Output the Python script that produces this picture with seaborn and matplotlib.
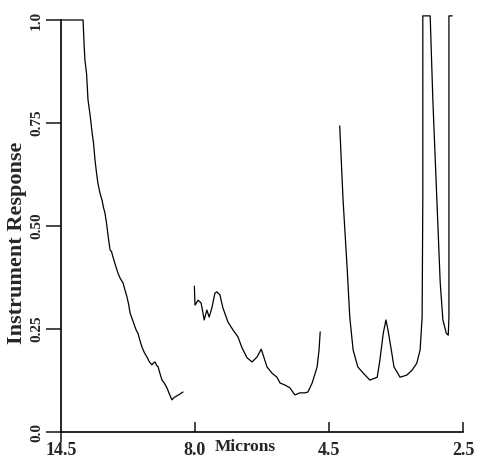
import numpy as np
import pandas as pd
import matplotlib
matplotlib.use("Agg")
import matplotlib.pyplot as plt
import seaborn as sns

# tick labels of the broken wavelength axis (three detector bands, equal width each)
band_edges = [14.5, 8.0, 4.5, 2.5]

# band 1 : 14.5 - 8.0 microns
micron_1 = [14.5, 13.43, 13.38, 13.34, 13.26, 13.19, 13.09, 12.99, 12.92, 12.85, 12.78, 12.71,
            12.61, 12.51, 12.44, 12.37, 12.30, 12.27, 12.20, 12.12, 12.05, 11.98, 11.86, 11.74,
            11.62, 11.49, 11.40, 11.30, 11.22, 11.15, 11.03, 10.91, 10.84, 10.77, 10.67, 10.57,
            10.45, 10.33, 10.21, 10.09, 10.01, 9.94, 9.86, 9.79, 9.70, 9.60, 9.48, 9.36,
            9.24, 9.12, 9.05, 8.97, 8.80, 8.58]
resp_1 = [1.0, 1.0, 0.94, 0.903, 0.87, 0.806, 0.77, 0.726, 0.70, 0.660, 0.63, 0.604,
          0.58, 0.563, 0.545, 0.532, 0.51, 0.498, 0.47, 0.442, 0.438, 0.425, 0.405, 0.386,
          0.372, 0.362, 0.345, 0.328, 0.31, 0.289, 0.272, 0.255, 0.246, 0.240, 0.222, 0.206,
          0.192, 0.182, 0.170, 0.163, 0.168, 0.170, 0.162, 0.158, 0.142, 0.126, 0.118, 0.107,
          0.092, 0.078, 0.082, 0.085, 0.090, 0.097]

# band 2 : 8.0 - 4.5 microns
micron_2 = [8.03, 8.0, 7.92, 7.84, 7.76, 7.69, 7.63, 7.56, 7.48, 7.43, 7.35, 7.27,
            7.14, 7.01, 6.88, 6.77, 6.64, 6.51, 6.38, 6.27, 6.22, 6.12, 5.99, 5.86,
            5.78, 5.65, 5.52, 5.39, 5.26, 5.13, 5.05, 4.94, 4.86, 4.81, 4.76, 4.73]
resp_2 = [0.354, 0.308, 0.320, 0.313, 0.272, 0.296, 0.279, 0.301, 0.337, 0.340, 0.333, 0.301,
          0.267, 0.248, 0.231, 0.204, 0.180, 0.170, 0.182, 0.201, 0.187, 0.158, 0.143, 0.133,
          0.119, 0.114, 0.107, 0.090, 0.095, 0.095, 0.097, 0.119, 0.143, 0.158, 0.199, 0.243]

# band 3 : 4.5 - 2.5 microns
micron_3 = [4.34, 4.29, 4.23, 4.19, 4.14, 4.07, 3.99, 3.89, 3.78, 3.74, 3.69, 3.65,
            3.62, 3.57, 3.53, 3.44, 3.34, 3.26, 3.19, 3.14, 3.11, 3.10, 3.10, 3.10,
            2.99, 2.95, 2.89, 2.84, 2.80, 2.75, 2.72, 2.71, 2.71, 2.71, 2.66]
resp_3 = [0.743, 0.563, 0.400, 0.279, 0.199, 0.158, 0.143, 0.126, 0.133, 0.175, 0.240, 0.272,
          0.248, 0.199, 0.158, 0.133, 0.138, 0.150, 0.167, 0.199, 0.279, 0.563, 0.806, 1.01,
          1.01, 0.806, 0.563, 0.362, 0.272, 0.240, 0.235, 0.279, 0.643, 1.01, 1.01]

y_ticks = [0.0, 0.25, 0.50, 0.75, 1.0]
y_tick_labels = ["0.0", "0.25", "0.50", "0.75", "1.0"]

# put the three bands on one equally spaced axis (0..3)
edges_sorted = band_edges[::-1]
pos_sorted = [3, 2, 1, 0]

frames = []
for k, (mic, resp) in enumerate([(micron_1, resp_1), (micron_2, resp_2), (micron_3, resp_3)]):
    frames.append(pd.DataFrame({
        "pos": np.interp(mic, edges_sorted, pos_sorted),
        "response": resp,
        "band": k,
    }))
df = pd.concat(frames, ignore_index=True)

sns.set_theme(style="white")
plt.rcParams["font.family"] = ["Liberation Serif", "DejaVu Serif"]
plt.rcParams["font.weight"] = "bold"

fig = plt.figure(figsize=(4.78, 4.62), dpi=100)
ax = fig.add_axes([61 / 478, 30 / 462, 402 / 478, 412 / 462])

sns.lineplot(data=df, x="pos", y="response", units="band", estimator=None, sort=False,
             color="black", linewidth=0.9, ax=ax, legend=False)
for line in ax.lines:
    line.set_clip_on(False)

ax.set_xlim(0, 3)
ax.set_ylim(0, 1)
ax.spines["top"].set_visible(False)
ax.spines["right"].set_visible(False)
for s in ["left", "bottom"]:
    ax.spines[s].set_color("black")
    ax.spines[s].set_linewidth(1.2)

# x ticks: inward ticks at band edges, the 14.5 one hangs below the axis
ax.set_xticks([1, 2, 3])
ax.set_xticklabels(band_edges[1:])
ax.set_xticks([0], minor=True)
ax.set_xticklabels([band_edges[0]], minor=True)
ax.tick_params(axis="x", which="major", direction="in", length=7, width=1.2,
               labelsize=13, pad=7, bottom=True)
ax.tick_params(axis="x", which="minor", direction="out", length=7, width=1.2,
               labelsize=13, pad=0, bottom=True)
for lab in ax.get_xticklabels(which="both"):
    lab.set_fontweight("bold")

ax.set_yticks(y_ticks)
ax.set_yticklabels(y_tick_labels, rotation=90, va="center")
ax.tick_params(axis="y", direction="out", length=11, width=1.2, labelsize=11, pad=2, left=True)
for lab in ax.get_yticklabels():
    lab.set_fontweight("bold")

ax.set_xlabel("")
ax.set_ylabel("Instrument Response", fontsize=16, fontweight="bold")
ax.yaxis.set_label_coords(-0.084, 0.46)

ax.text(1.373, -0.036, "Microns", transform=ax.get_xaxis_transform(),
        ha="center", va="center", fontsize=12.5, fontweight="bold")

fig.savefig("out.png", dpi=100)
